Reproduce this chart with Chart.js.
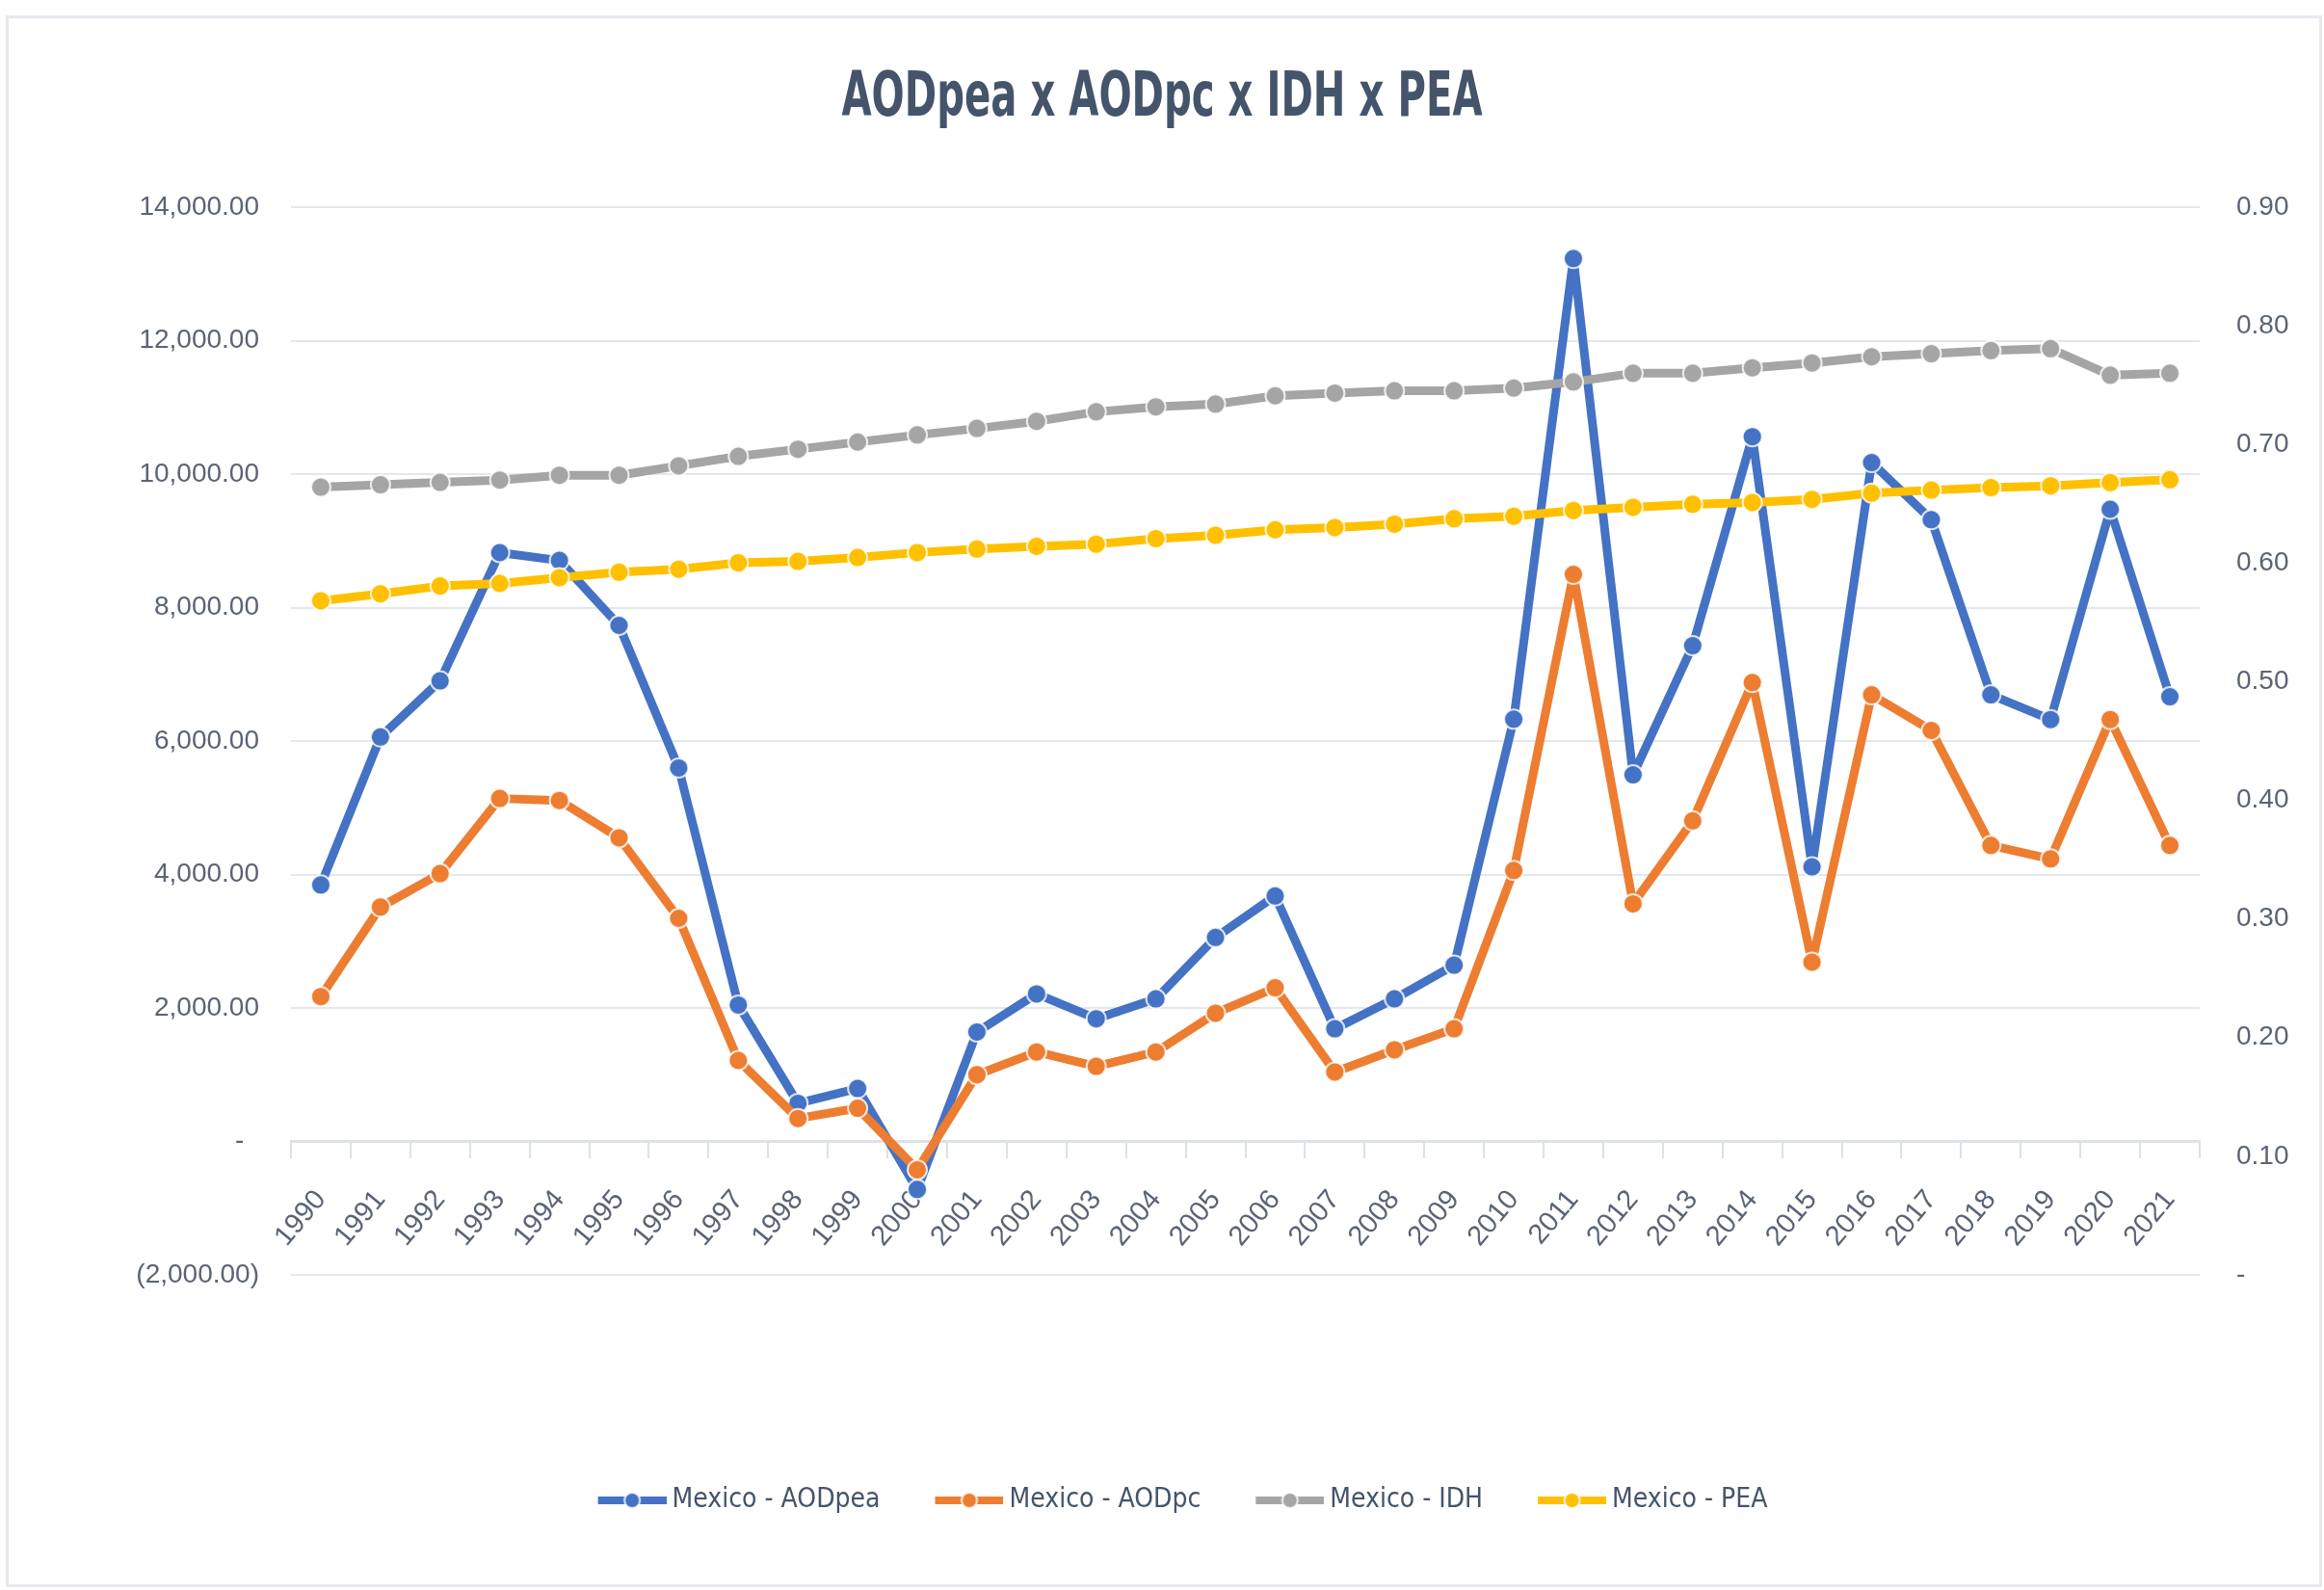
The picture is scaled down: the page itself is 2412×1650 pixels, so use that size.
<!DOCTYPE html>
<html><head><meta charset="utf-8">
<script src="https://cdn.jsdelivr.net/npm/chart.js@4.4.1/dist/chart.umd.min.js"></script>
<style>
html,body{margin:0;padding:0;background:#fff;}
#wrap{position:relative;width:2412px;height:1650px;background:#fff;}
canvas{position:absolute;left:0;top:0;}
#frame{position:absolute;left:6px;top:16px;width:2404px;height:1631px;border:3px solid #e6e9ef;box-sizing:border-box;pointer-events:none;}
</style></head><body>
<div id="wrap"><canvas id="c" width="2412" height="1650"></canvas><div id="frame"></div></div>
<script>
const titleText = 'AODpea x AODpc x IDH x PEA';
const years = ['1990','1991','1992','1993','1994','1995','1996','1997','1998','1999','2000','2001','2002','2003','2004','2005','2006','2007','2008','2009','2010','2011','2012','2013','2014','2015','2016','2017','2018','2019','2020','2021'];
const aodpea = [3843, 6061, 6901, 8823, 8706, 7733, 5596, 2045, 572, 793, -720, 1639, 2211, 1838, 2136, 3056, 3678, 1688, 2136, 2641, 6327, 13230, 5494, 7429, 10560, 4114, 10173, 9317, 6692, 6323, 9473, 6664];
const aodpc = [2170, 3512, 4013, 5139, 5110, 4550, 3343, 1213, 344, 498, -425, 1001, 1340, 1125, 1340, 1921, 2302, 1041, 1373, 1688, 4060, 8498, 3561, 4804, 6877, 2686, 6692, 6159, 4436, 4234, 6323, 4436];
const idh = [0.664, 0.666, 0.668, 0.670, 0.674, 0.674, 0.682, 0.690, 0.696, 0.702, 0.708, 0.7135, 0.7195, 0.7275, 0.7317, 0.734, 0.741, 0.7433, 0.7452, 0.7452, 0.7475, 0.7527, 0.760, 0.760, 0.7646, 0.7687, 0.7739, 0.7765, 0.7791, 0.7807, 0.7584, 0.760];
const pea = [0.5682, 0.5741, 0.5807, 0.5828, 0.5877, 0.5923, 0.5948, 0.6002, 0.6014, 0.6047, 0.6089, 0.6118, 0.6141, 0.616, 0.6206, 0.6235, 0.6281, 0.63, 0.6328, 0.6374, 0.6395, 0.6444, 0.647, 0.6496, 0.6511, 0.6537, 0.6589, 0.6615, 0.6636, 0.6651, 0.6678, 0.6703];
const leftTickLabels = ['(2,000.00)', '-  ', '2,000.00', '4,000.00', '6,000.00', '8,000.00', '10,000.00', '12,000.00', '14,000.00'];
const rightTickLabels = ['-', '0.10', '0.20', '0.30', '0.40', '0.50', '0.60', '0.70', '0.80', '0.90'];
const seriesNames = ['Mexico - AODpea', 'Mexico - AODpc', 'Mexico - IDH', 'Mexico - PEA'];
const colors = ['#4472C4', '#ED7D31', '#A5A5A5', '#FFC000'];

const COND = '"DejaVu Sans Condensed", "DejaVu Sans", sans-serif';
const SANS = '"Liberation Sans", Arial, sans-serif';
const TXT = '#44546A';
const TICK = '#5b6475';

function legendMarker(color) {
  const c = document.createElement('canvas');
  c.width = 122; c.height = 26;
  const g = c.getContext('2d');
  g.strokeStyle = color; g.lineWidth = 8; g.lineCap = 'butt';
  g.beginPath(); g.moveTo(51, 13); g.lineTo(122, 13); g.stroke();
  g.beginPath(); g.arc(86.5, 13, 8, 0, Math.PI * 2);
  g.fillStyle = color; g.fill();
  g.lineWidth = 2; g.strokeStyle = 'rgba(255,255,255,0.85)'; g.stroke();
  return c;
}
const markers = colors.map(legendMarker);

const titlePlugin = {
  id: 'stretchTitle',
  afterDraw(chart) {
    const ctx = chart.ctx;
    ctx.save();
    ctx.font = 'bold 64px ' + COND;
    const w = ctx.measureText(titleText).width;
    ctx.translate(1206, 120);
    ctx.scale(665 / w, 1);
    ctx.textAlign = 'center'; ctx.textBaseline = 'alphabetic';
    ctx.fillStyle = TXT;
    ctx.fillText(titleText, 0, 0);
    ctx.restore();
  }
};

function ds(label, data, color, axis, order) {
  return {
    label, data, yAxisID: axis, order,
    borderColor: color, backgroundColor: color,
    borderWidth: 9, tension: 0, borderJoinStyle: 'round', borderCapStyle: 'round',
    pointRadius: 10, pointHoverRadius: 10,
    pointBackgroundColor: color,
    pointBorderColor: 'rgba(255,255,255,0.8)', pointBorderWidth: 2,
    fill: false
  };
}

new Chart(document.getElementById('c'), {
  type: 'line',
  data: {
    labels: years,
    datasets: [
      ds(seriesNames[0], aodpea, colors[0], 'y', 4),
      ds(seriesNames[1], aodpc, colors[1], 'y', 3),
      ds(seriesNames[2], idh, colors[2], 'y1', 2),
      ds(seriesNames[3], pea, colors[3], 'y1', 1)
    ]
  },
  plugins: [titlePlugin],
  options: {
    responsive: false, animation: false, devicePixelRatio: 1,
    layout: { padding: { left: 0, right: 0, top: 215, bottom: 69 } },
    plugins: {
      title: { display: false },
      legend: {
        display: true, position: 'bottom', align: 'center',
        title: { display: true, text: ' ', font: { size: 10, lineHeight: 1.2 }, padding: { top: 194, bottom: 0 } },
        labels: {
          usePointStyle: true, pointStyleWidth: 106, boxHeight: 28,
          padding: 14, color: TXT,
          font: { family: COND, size: 28 },
          sort: (a, b) => a.datasetIndex - b.datasetIndex,
          generateLabels: (chart) => Chart.defaults.plugins.legend.labels.generateLabels(chart)
            .map((l) => Object.assign(l, { pointStyle: markers[l.datasetIndex] }))
        }
      },
      tooltip: { enabled: false }
    },
    scales: {
      x: {
        type: 'category', position: { y: 0 }, offset: true,
        grid: { display: true, drawOnChartArea: false, drawTicks: true, tickLength: 16, color: '#dde1e8', lineWidth: 2, offset: true },
        border: { display: true, color: '#dde1e8', width: 3 },
        ticks: { color: TICK, font: { family: SANS, size: 29 }, minRotation: 50, maxRotation: 50, autoSkip: false, padding: 28 }
      },
      y: {
        position: 'left', min: -2000, max: 14000,
        afterFit: (s) => { s.width = 302; },
        grid: { color: '#e3e7ee', lineWidth: 2, drawTicks: false },
        border: { display: false },
        ticks: { stepSize: 2000, color: TICK, font: { family: SANS, size: 28 }, padding: 33,
          callback: (v, i) => leftTickLabels[i] }
      },
      y1: {
        position: 'right', min: 0, max: 0.9,
        afterFit: (s) => { s.width = 129; },
        grid: { display: false, drawTicks: false, drawOnChartArea: false },
        border: { display: false },
        ticks: { stepSize: 0.1, color: TICK, font: { family: SANS, size: 28 }, padding: 38,
          callback: (v, i) => rightTickLabels[i] }
      }
    }
  }
});
</script>
</body></html>
